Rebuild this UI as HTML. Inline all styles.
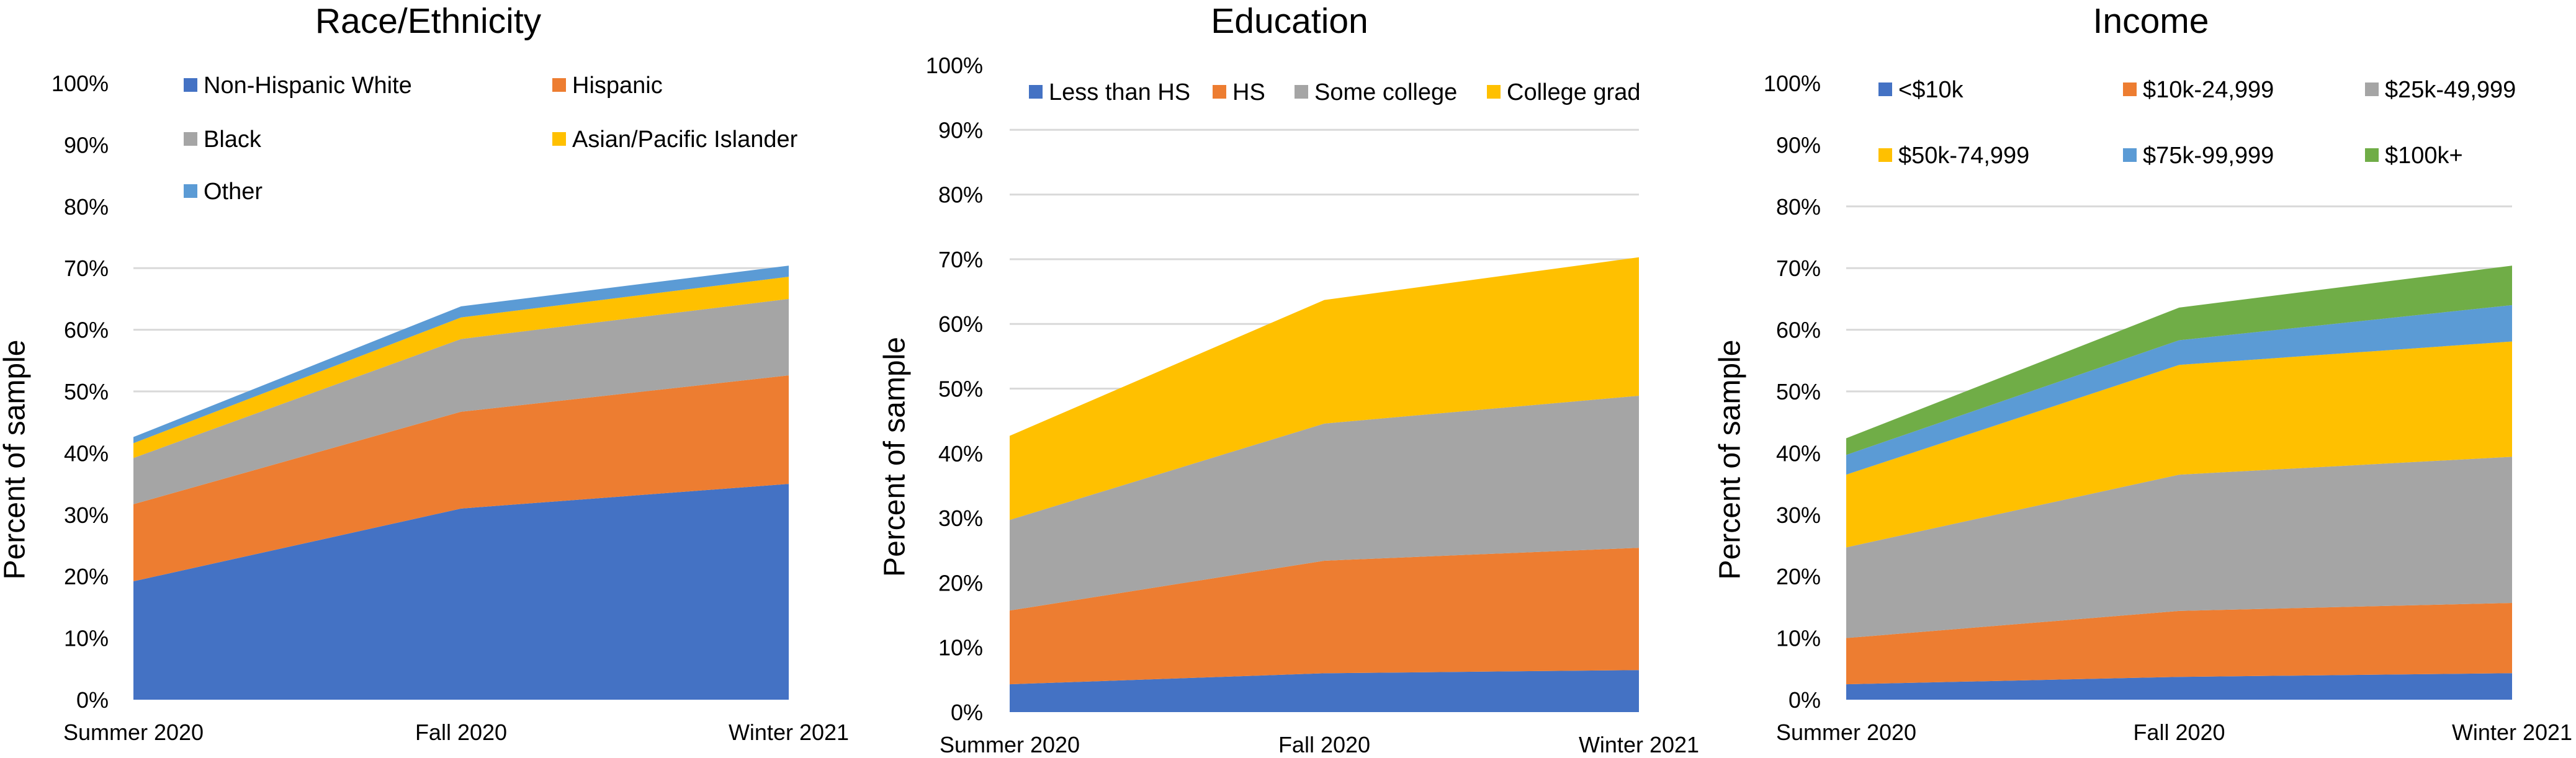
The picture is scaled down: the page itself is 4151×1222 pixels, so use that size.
<!DOCTYPE html>
<html><head><meta charset="utf-8"><style>
html,body{margin:0;padding:0;background:#fff;}
svg{display:block;font-family:"Liberation Sans",sans-serif;}
</style></head><body>
<svg id="c" width="4151" height="1222" viewBox="0 0 4151 1222"></svg>
<script>
const categories = ["Summer 2020","Fall 2020","Winter 2021"];
const tickLabels = ["0%","10%","20%","30%","40%","50%","60%","70%","80%","90%","100%"];

const raceNames = ["Non-Hispanic White","Hispanic","Black","Asian/Pacific Islander","Other"];
const raceWhite = [19.2,31.0,35.0];
const raceHispanic = [12.5,15.7,17.6];
const raceBlack = [7.5,11.8,12.4];
const raceAsian = [2.4,3.5,3.6];
const raceOther = [1.0,1.8,1.8];

const eduNames = ["Less than HS","HS","Some college","College grad"];
const eduLessHS = [4.3,6.0,6.5];
const eduHS = [11.4,17.4,18.9];
const eduSome = [14.0,21.2,23.5];
const eduGrad = [13.0,19.1,21.4];

const incNames = ["<$10k","$10k-24,999","$25k-49,999","$50k-74,999","$75k-99,999","$100k+"];
const inc10 = [2.5,3.7,4.3];
const inc25 = [7.5,10.7,11.4];
const inc50 = [14.7,22.1,23.7];
const inc75 = [11.8,17.8,18.7];
const inc100 = [3.2,4.0,5.9];
const inc100p = [2.7,5.3,6.4];

const NS="http://www.w3.org/2000/svg";
const svg=document.getElementById('c');
function mk(tag,attrs,parent){const e=document.createElementNS(NS,tag);for(const k in attrs)e.setAttribute(k,attrs[k]);(parent||svg).appendChild(e);return e;}

const charts=[
 {key:'race',title:'Race/Ethnicity',titleX:690,left:215,right:1271,y0:1128,y100:134,labelRight:175,yTitleX:24,gridMax:7,xlabBase:1193,
  series:[raceWhite,raceHispanic,raceBlack,raceAsian,raceOther],names:raceNames,
  colors:['#4472C4','#ED7D31','#A5A5A5','#FFC000','#5B9BD5'],
  legend:[[296,137],[890,137],[296,224],[890,224],[296,308]]},
 {key:'edu',title:'Education',titleX:2078,left:1627,right:2641,y0:1148,y100:105,labelRight:1584,yTitleX:1442,gridMax:9,xlabBase:1213,
  series:[eduLessHS,eduHS,eduSome,eduGrad],names:eduNames,
  colors:['#4472C4','#ED7D31','#A5A5A5','#FFC000'],
  legend:[[1658,148],[1954,148],[2086,148],[2396,148]]},
 {key:'income',title:'Income',titleX:3466,left:2975,right:4048,y0:1128,y100:134,labelRight:2934,yTitleX:2788,gridMax:8,xlabBase:1193,
  series:[inc10,inc25,inc50,inc75,inc100,inc100p],names:incNames,
  colors:['#4472C4','#ED7D31','#A5A5A5','#FFC000','#5B9BD5','#70AD47'],
  legend:[[3027,144],[3421,144],[3811,144],[3027,250],[3421,250],[3811,250]]}
];

charts.forEach(c=>{
  const g=mk('g',{});
  
  
  const yS=v=>c.y0-(c.y0-c.y100)*v/100;
  const xS=i=>c.left+(c.right-c.left)*i/(categories.length-1);
  const t=mk('text',{x:c.titleX,y:53,'text-anchor':'middle','font-size':57,fill:'#000'},g);
  t.textContent=c.title;
  
  
  for(let i=1;i<=c.gridMax;i++){
    const l=mk('line',{x1:c.left,x2:c.right,y1:yS(i*10),y2:yS(i*10),stroke:'#d9d9d9','stroke-width':3},g);
    
    
  }
  tickLabels.forEach((lab,i)=>{
    const tt=mk('text',{x:c.labelRight,y:yS(i*10)+13,'text-anchor':'end','font-size':36,fill:'#000'},g);
    tt.textContent=lab;
    
    
  });
  const cy=(c.y0+c.y100)/2+110;
  const yt=mk('text',{x:c.yTitleX,y:cy,'font-size':48,fill:'#000','text-anchor':'middle',transform:`rotate(-90 ${c.yTitleX} ${cy})`,'dominant-baseline':'central'},g);
  yt.textContent='Percent of sample';
  
  
  let base=categories.map(()=>0);
  c.series.forEach((s,si)=>{
    const top=base.map((b,i)=>b+s[i]);
    let pts=top.map((v,i)=>xS(i)+','+yS(v));
    for(let i=categories.length-1;i>=0;i--)pts.push(xS(i)+','+yS(base[i]));
    const p=mk('polygon',{points:pts.join(' '),fill:c.colors[si]},g);
    
    
    base=top;
  });
  categories.forEach((cat,i)=>{
    const xt=mk('text',{x:xS(i),y:c.xlabBase,'text-anchor':'middle','font-size':36,fill:'#000'},g);
    xt.textContent=cat;
    
    
  });
  c.names.forEach((n,i)=>{
    const [lx,ly]=c.legend[i];
    const r=mk('rect',{x:lx,y:ly-11,width:22,height:22,fill:c.colors[i]},g);
    
    
    const lt=mk('text',{x:lx+32,y:ly+13,'font-size':38,fill:'#000'},g);
    lt.textContent=n;
    
    
  });
});
</script>
</body></html>
